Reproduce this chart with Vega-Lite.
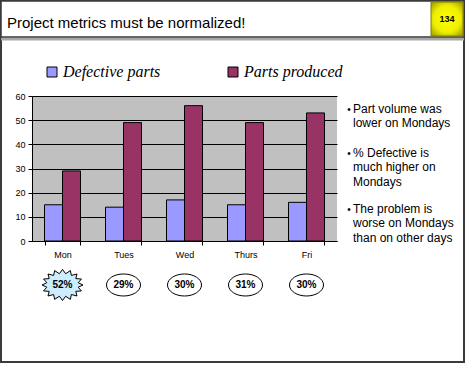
{
  "$schema": "https://vega.github.io/schema/vega-lite/v6.json",
  "width": 305,
  "height": 145,
  "autosize": {"type": "none"},
  "padding": {"left": 32, "top": 96, "right": 130, "bottom": 126},
  "background": "white",
  "datasets": {
    "parts": [
      {"day": "Mon", "series": "Defective parts", "value": 15},
      {"day": "Mon", "series": "Parts produced", "value": 29},
      {"day": "Tues", "series": "Defective parts", "value": 14},
      {"day": "Tues", "series": "Parts produced", "value": 49},
      {"day": "Wed", "series": "Defective parts", "value": 17},
      {"day": "Wed", "series": "Parts produced", "value": 56},
      {"day": "Thurs", "series": "Defective parts", "value": 15},
      {"day": "Thurs", "series": "Parts produced", "value": 49},
      {"day": "Fri", "series": "Defective parts", "value": 16},
      {"day": "Fri", "series": "Parts produced", "value": 53}
    ],
    "pct": [
      {"day": "Mon", "pct": "52%", "highlight": true},
      {"day": "Tues", "pct": "29%", "highlight": false},
      {"day": "Wed", "pct": "30%", "highlight": false},
      {"day": "Thurs", "pct": "31%", "highlight": false},
      {"day": "Fri", "pct": "30%", "highlight": false}
    ],
    "slide": [
      {"title": "Project metrics must be normalized!", "page": "134"}
    ],
    "notes": [
      {"block": 1, "text": "Part volume was\nlower on Mondays"},
      {"block": 2, "text": "% Defective is\nmuch higher on\nMondays"},
      {"block": 3, "text": "The problem is\nworse on Mondays\nthan on other days"}
    ]
  },
  "layer": [
    {
      "data": {"name": "parts"},
      "mark": {"type": "bar", "stroke": "black", "strokeWidth": 1},
      "encoding": {
        "x": {
          "field": "day", "type": "nominal", "sort": ["Mon", "Tues", "Wed", "Thurs", "Fri"],
          "scale": {"paddingInner": 0.41, "paddingOuter": 0.205},
          "axis": {"orient": "bottom", "labelAngle": 0, "tickBand": "extent", "labelPadding": 5, "title": null, "grid": false}
        },
        "xOffset": {"field": "series", "type": "nominal", "sort": ["Defective parts", "Parts produced"], "scale": {"paddingInner": 0, "paddingOuter": 0}},
        "y": {
          "field": "value", "type": "quantitative",
          "scale": {"domain": [0, 60], "nice": false, "zero": false},
          "axis": {"orient": "left", "values": [0, 10, 20, 30, 40, 50, 60], "labelOverlap": false, "grid": true, "gridColor": "black", "gridOpacity": 1, "gridWidth": 1, "title": null, "labelPadding": 3}
        },
        "color": {
          "field": "series", "type": "nominal",
          "scale": {"domain": ["Defective parts", "Parts produced"], "range": ["#9999FF", "#993366"]},
          "legend": {
            "orient": "none", "legendX": 12, "legendY": -32, "direction": "horizontal", "title": null,
            "symbolType": "square", "symbolSize": 100, "symbolStrokeColor": "black", "symbolStrokeWidth": 1, "symbolOpacity": 1,
            "labelFont": "Liberation Serif", "labelFontStyle": "italic", "labelFontSize": 16, "labelColor": "black",
            "labelOffset": 3, "columnPadding": 64, "padding": 0, "labelLimit": 300
          }
        }
      }
    },
    {
      "data": {"name": "pct"},
      "transform": [{"filter": "datum.highlight"}],
      "mark": {
        "type": "point", "filled": true, "fill": "#CCECFF", "stroke": "black", "strokeWidth": 1, "opacity": 1, "size": 1681,
        "shape": "M1,0 L0.765,0.109 L0.924,0.291 L0.649,0.311 L0.707,0.537 L0.433,0.466 L0.383,0.702 L0.152,0.549 L0,0.76 L-0.152,0.549 L-0.383,0.702 L-0.433,0.466 L-0.707,0.537 L-0.649,0.311 L-0.924,0.291 L-0.765,0.109 L-1,0 L-0.765,-0.109 L-0.924,-0.291 L-0.649,-0.311 L-0.707,-0.537 L-0.433,-0.466 L-0.383,-0.702 L-0.152,-0.549 L0,-0.76 L0.152,-0.549 L0.383,-0.702 L0.433,-0.466 L0.707,-0.537 L0.649,-0.311 L0.924,-0.291 L0.765,-0.109 Z"
      },
      "encoding": {
        "x": {"field": "day", "type": "nominal", "scale": {"type": "band", "domain": ["Mon", "Tues", "Wed", "Thurs", "Fri"], "paddingInner": 0.41, "paddingOuter": 0.205}, "axis": null},
        "y": {"datum": -18.2, "scale": {"domain": [0, 60], "nice": false, "zero": false}, "axis": null}
      }
    },
    {
      "data": {"name": "pct"},
      "transform": [{"filter": "!datum.highlight"}],
      "mark": {
        "type": "point", "filled": true, "fill": "white", "stroke": "black", "strokeWidth": 1, "opacity": 1, "size": 1681,
        "shape": "M-0.83,0 A0.83,0.537 0 1,0 0.83,0 A0.83,0.537 0 1,0 -0.83,0 Z"
      },
      "encoding": {
        "x": {"field": "day", "type": "nominal", "scale": {"type": "band", "domain": ["Mon", "Tues", "Wed", "Thurs", "Fri"], "paddingInner": 0.41, "paddingOuter": 0.205}, "axis": null},
        "y": {"datum": -18.2, "scale": {"domain": [0, 60], "nice": false, "zero": false}, "axis": null}
      }
    },
    {
      "data": {"name": "pct"},
      "mark": {"type": "text", "font": "Liberation Sans Narrow, Arial Narrow, Liberation Sans", "fontSize": 10, "fontWeight": "bold", "color": "black", "align": "center", "baseline": "middle"},
      "encoding": {
        "x": {"field": "day", "type": "nominal", "scale": {"type": "band", "domain": ["Mon", "Tues", "Wed", "Thurs", "Fri"], "paddingInner": 0.41, "paddingOuter": 0.205}, "axis": null},
        "y": {"datum": -18.2, "scale": {"domain": [0, 60], "nice": false, "zero": false}, "axis": null},
        "text": {"field": "pct"}
      }
    },
    {
      "data": {"name": "slide"},
      "mark": {"type": "rect", "filled": false, "stroke": "#3a3a3a", "strokeWidth": 2},
      "encoding": {
        "x": {"datum": -0.508, "scale": {"domain": [0, 5], "nice": false, "zero": false}, "axis": null},
        "x2": {"datum": 7.082},
        "y": {"datum": 99.31, "scale": {"domain": [0, 60], "nice": false, "zero": false}, "axis": null},
        "y2": {"datum": -50.07}
      }
    },
    {
      "data": {"name": "slide"},
      "mark": {"type": "rule", "stroke": "#a8a8a8", "strokeWidth": 3},
      "encoding": {
        "x": {"datum": -0.508, "scale": {"domain": [0, 5], "nice": false, "zero": false}, "axis": null},
        "x2": {"datum": 7.082},
        "y": {"datum": 83.6, "scale": {"domain": [0, 60], "nice": false, "zero": false}, "axis": null}
      }
    },
    {
      "data": {"name": "slide"},
      "mark": {"type": "rect", "fill": "white", "stroke": "#3a3a3a", "strokeWidth": 1.5},
      "encoding": {
        "x": {"datum": -0.508, "scale": {"domain": [0, 5], "nice": false, "zero": false}, "axis": null},
        "x2": {"datum": 7.082},
        "y": {"datum": 99.31, "scale": {"domain": [0, 60], "nice": false, "zero": false}, "axis": null},
        "y2": {"datum": 84.41}
      }
    },
    {
      "data": {"name": "slide"},
      "mark": {
        "type": "rect",
        "fill": {"gradient": "radial", "x1": 0.5, "y1": 0.5, "x2": 0.5, "y2": 0.5, "r1": 0, "r2": 0.72,
          "stops": [{"offset": 0, "color": "#ffff00"}, {"offset": 0.55, "color": "#eeee00"}, {"offset": 1, "color": "#8a8a00"}]},
        "stroke": "#808000",
        "strokeWidth": 1
      },
      "encoding": {
        "x": {"datum": 6.541, "scale": {"domain": [0, 5], "nice": false, "zero": false}, "axis": null},
        "x2": {"datum": 7.066},
        "y": {"datum": 98.9, "scale": {"domain": [0, 60], "nice": false, "zero": false}, "axis": null},
        "y2": {"datum": 84.83}
      }
    },
    {
      "data": {"name": "slide"},
      "mark": {"type": "text", "font": "Liberation Sans", "fontSize": 9, "fontWeight": "bold", "color": "black", "align": "center", "baseline": "middle"},
      "encoding": {
        "x": {"datum": 6.803, "scale": {"domain": [0, 5], "nice": false, "zero": false}, "axis": null},
        "y": {"datum": 91.86, "scale": {"domain": [0, 60], "nice": false, "zero": false}, "axis": null},
        "text": {"field": "page"}
      }
    },
    {
      "data": {"name": "slide"},
      "mark": {"type": "text", "font": "Liberation Sans", "fontSize": 15, "color": "black", "align": "left", "baseline": "alphabetic"},
      "encoding": {
        "x": {"datum": -0.41, "scale": {"domain": [0, 5], "nice": false, "zero": false}, "axis": null},
        "y": {"datum": 88.14, "scale": {"domain": [0, 60], "nice": false, "zero": false}, "axis": null},
        "text": {"field": "title"}
      }
    },
    {
      "data": {"name": "notes"},
      "transform": [{"filter": "datum.block === 1"}],
      "mark": {"type": "text", "font": "Liberation Sans", "fontSize": 12, "color": "black", "align": "left", "baseline": "alphabetic", "lineBreak": "\n", "lineHeight": 14.5},
      "encoding": {
        "x": {"datum": 5.262, "scale": {"domain": [0, 5], "nice": false, "zero": false}, "axis": null},
        "y": {"datum": 52.97, "scale": {"domain": [0, 60], "nice": false, "zero": false}, "axis": null},
        "text": {"field": "text"}
      }
    },
    {
      "data": {"name": "notes"},
      "transform": [{"filter": "datum.block === 1"}],
      "mark": {"type": "text", "font": "Liberation Sans", "fontSize": 10, "color": "black", "align": "left", "baseline": "alphabetic", "text": "•"},
      "encoding": {
        "x": {"datum": 5.17, "scale": {"domain": [0, 5], "nice": false, "zero": false}, "axis": null},
        "y": {"datum": 52.97, "scale": {"domain": [0, 60], "nice": false, "zero": false}, "axis": null}
      }
    },
    {
      "data": {"name": "notes"},
      "transform": [{"filter": "datum.block === 2"}],
      "mark": {"type": "text", "font": "Liberation Sans", "fontSize": 12, "color": "black", "align": "left", "baseline": "alphabetic", "lineBreak": "\n", "lineHeight": 14.5},
      "encoding": {
        "x": {"datum": 5.262, "scale": {"domain": [0, 5], "nice": false, "zero": false}, "axis": null},
        "y": {"datum": 34.76, "scale": {"domain": [0, 60], "nice": false, "zero": false}, "axis": null},
        "text": {"field": "text"}
      }
    },
    {
      "data": {"name": "notes"},
      "transform": [{"filter": "datum.block === 2"}],
      "mark": {"type": "text", "font": "Liberation Sans", "fontSize": 10, "color": "black", "align": "left", "baseline": "alphabetic", "text": "•"},
      "encoding": {
        "x": {"datum": 5.17, "scale": {"domain": [0, 5], "nice": false, "zero": false}, "axis": null},
        "y": {"datum": 34.76, "scale": {"domain": [0, 60], "nice": false, "zero": false}, "axis": null}
      }
    },
    {
      "data": {"name": "notes"},
      "transform": [{"filter": "datum.block === 3"}],
      "mark": {"type": "text", "font": "Liberation Sans", "fontSize": 12, "color": "black", "align": "left", "baseline": "alphabetic", "lineBreak": "\n", "lineHeight": 14.5},
      "encoding": {
        "x": {"datum": 5.262, "scale": {"domain": [0, 5], "nice": false, "zero": false}, "axis": null},
        "y": {"datum": 11.59, "scale": {"domain": [0, 60], "nice": false, "zero": false}, "axis": null},
        "text": {"field": "text"}
      }
    },
    {
      "data": {"name": "notes"},
      "transform": [{"filter": "datum.block === 3"}],
      "mark": {"type": "text", "font": "Liberation Sans", "fontSize": 10, "color": "black", "align": "left", "baseline": "alphabetic", "text": "•"},
      "encoding": {
        "x": {"datum": 5.17, "scale": {"domain": [0, 5], "nice": false, "zero": false}, "axis": null},
        "y": {"datum": 11.59, "scale": {"domain": [0, 60], "nice": false, "zero": false}, "axis": null}
      }
    }
  ],
  "resolve": {"scale": {"x": "independent", "y": "independent"}, "axis": {"x": "independent", "y": "independent"}},
  "config": {
    "view": {"fill": "#C0C0C0", "stroke": null},
    "font": "Liberation Sans",
    "axis": {"labelFont": "Liberation Sans", "labelFontSize": 9, "labelColor": "black", "domainColor": "black", "tickColor": "black", "tickSize": 4, "titleFontSize": 0}
  }
}
